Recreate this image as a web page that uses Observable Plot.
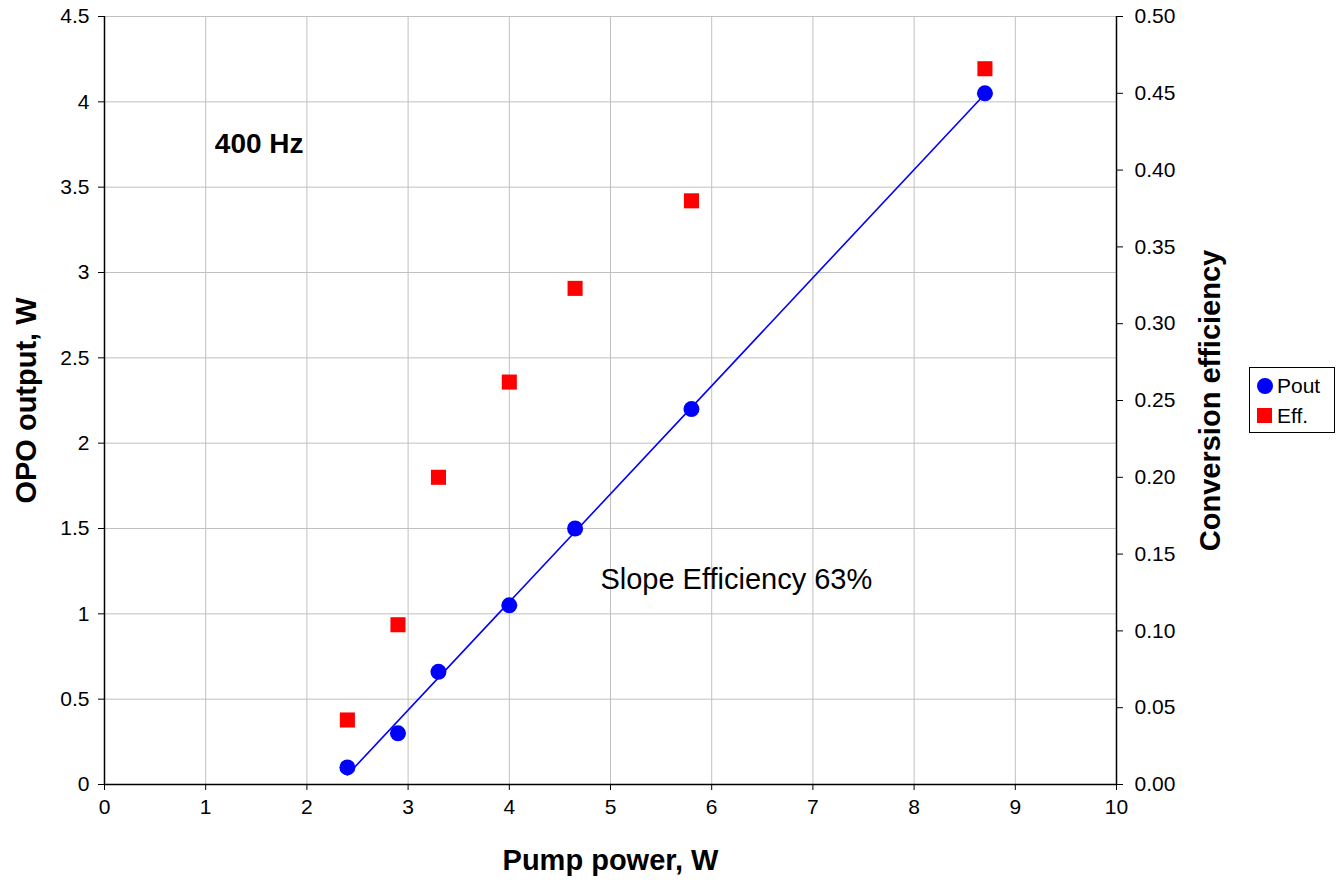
<!DOCTYPE html>
<html><head><meta charset="utf-8">
<script src="https://cdn.jsdelivr.net/npm/d3@7"></script>
<script src="https://cdn.jsdelivr.net/npm/@observablehq/plot@0.6"></script>
<style>
body{margin:0;background:#fff;font-family:"Liberation Sans",Arial,sans-serif;}
#wrap{position:relative;width:1337px;height:883px;}
#legend{position:absolute;left:1249px;top:367px;width:86px;height:66px;border:1px solid #000;box-sizing:border-box;background:#fff;font-size:21px;}
#legend .row{position:absolute;left:6px;display:flex;align-items:center;}
</style></head>
<body><div id="wrap"><div id="legend">
<div class="row" style="top:6px"><svg width="18" height="18"><circle cx="9" cy="9" r="8" fill="#0000ff"/></svg><span style="margin-left:3px">Pout</span></div>
<div class="row" style="top:36px"><svg width="18" height="18"><rect x="1" y="1" width="15" height="15" fill="#ff0000"/></svg><span style="margin-left:3px">Eff.</span></div>
</div></div>
<script>
const pumpPower = [2.4, 2.9, 3.3, 4.0, 4.65, 5.8, 8.7];
const poutW = [0.10, 0.30, 0.66, 1.05, 1.50, 2.20, 4.05];
const efficiency = [0.042, 0.104, 0.200, 0.262, 0.323, 0.380, 0.466];
const xTicks = [0,1,2,3,4,5,6,7,8,9,10];
const yTicks = [0,0.5,1,1.5,2,2.5,3,3.5,4,4.5];
const effTicks = [0,0.05,0.10,0.15,0.20,0.25,0.30,0.35,0.40,0.45,0.50];
const effScale = 9; // 0.50 efficiency at 4.5 W on the left axis

const rows = pumpPower.map((p,i)=>({p, pout: poutW[i], eff: efficiency[i]}));

const chart = Plot.plot({
  width: 1337, height: 883,
  marginLeft: 104, marginRight: 221, marginTop: 16, marginBottom: 99,
  style: {fontFamily: '"Liberation Sans", Arial, sans-serif', fontSize: "21px", background: "white", color: "#000"},
  x: {domain: [0,10]},
  y: {domain: [0,4.5]},
  marks: [
    Plot.gridX(xTicks, {stroke: "#c0c0c0", strokeOpacity: 1, strokeWidth: 1}),
    Plot.gridY(yTicks, {stroke: "#c0c0c0", strokeOpacity: 1, strokeWidth: 1}),
    Plot.axisX(xTicks, {tickSize: 6, tickPadding: 9, fontSize: 21, label: null, tickFormat: d=>String(d)}),
    Plot.axisY(yTicks, {anchor: "left", tickSize: 6, tickPadding: 9, fontSize: 21, label: null, tickFormat: d=>String(d)}),
    Plot.axisY(effTicks.map(e => e * effScale), {anchor: "right", tickSize: 6, tickPadding: 12, fontSize: 21, label: null, tickFormat: d=>(d/effScale).toFixed(2)}),
    Plot.ruleX([0], {stroke: "#000", strokeWidth: 1.5}),
    Plot.ruleX([10], {stroke: "#000", strokeWidth: 1.5}),
    Plot.ruleY([0], {stroke: "#000", strokeWidth: 1.5}),
    Plot.linearRegressionY(rows, {x: "p", y: "pout", stroke: "#0000ff", strokeWidth: 1.6, ci: 0}),
    Plot.dot(rows, {x: "p", y: "pout", r: 8, fill: "#0000ff", stroke: "none"}),
    Plot.dot(rows, {x: "p", y: d => d.eff * effScale, r: 8.5, symbol: "square", fill: "#ff0000", stroke: "none"}),
    Plot.text(["400 Hz"], {x: 1.09, y: 3.75, text: d=>d, textAnchor: "start", fontSize: 28, fontWeight: "bold"}),
    Plot.text(["Slope Efficiency 63%"], {x: 4.9, y: 1.2, text: d=>d, textAnchor: "start", fontSize: 29}),
    Plot.text(["Pump power, W"], {frameAnchor: "bottom", dy: 85, text: d=>d, textAnchor: "middle", fontSize: 29, fontWeight: "bold"}),
    Plot.text(["OPO output, W"], {frameAnchor: "left", dx: -78, rotate: -90, text: d=>d, textAnchor: "middle", fontSize: 29, fontWeight: "bold"}),
    Plot.text(["Conversion efficiency"], {frameAnchor: "right", dx: 94, rotate: -90, text: d=>d, textAnchor: "middle", fontSize: 29, fontWeight: "bold"})
  ]
});
document.getElementById("wrap").prepend(chart);
</script></body></html>
